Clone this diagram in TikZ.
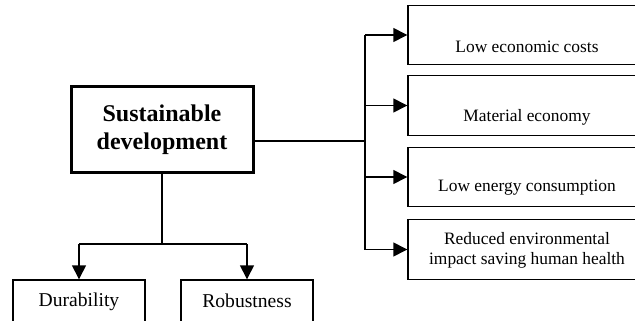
\documentclass[tikz,border=0pt]{standalone}
\usepackage{fontspec}
\setmainfont{Liberation Serif}
\usetikzlibrary{arrows.meta}
\begin{document}
\begin{tikzpicture}[x=1pt,y=-1pt,
  box/.style={draw=black,line width=1.4pt,inner sep=0pt,fill=white},
  mainbox/.style={draw=black,line width=3pt,inner sep=0pt,minimum width=182pt,minimum height=85pt,align=center,font=\fontsize{24}{28}\selectfont\bfseries},
  rbox/.style={box,minimum width=238pt,minimum height=59.5pt},
  bbox/.style={box,minimum width=132pt,minimum height=44pt},
  rtxt/.style={font=\fontsize{17.4}{20}\selectfont,align=center,inner sep=0pt},
  btxt/.style={font=\fontsize{19.6}{22}\selectfont,inner sep=0pt},
  conn/.style={line width=1.4pt},
  arr/.style={conn,-{Triangle[length=14pt,width=14pt]}}]
\useasboundingbox (0,0) rectangle (635,321);
\clip (0,0) rectangle (635,321);
\fill[white] (0,0) rectangle (635,321);
% main node
\node[mainbox] (main) at (162,129.5) {Sustainable\\development};
% right boxes
\node[rbox] (b1) at (527,35) {};
\node[rbox] (b2) at (527,105.5) {};
\node[rbox] (b3) at (527,177) {};
\node[rbox] (b4) at (527,249.5) {};
\node[rtxt] (t1) at (527,47) {Low economic costs};
\node[rtxt] (t2) at (527,117) {Material economy};
\node[rtxt] (t3) at (527,188) {Low energy consumption};
\node[rtxt] (t4) at (527,250) {Reduced environmental\\impact saving human health};
% bottom boxes
\node[bbox] (d) at (79,302) {};
\node[bbox] (r) at (247,302) {};
\node[btxt] (dt) at (79,302) {Durability};
\node[btxt] (rt) at (247,301) {Robustness};
% bus coordinates
\coordinate (hs) at (253,141);
\coordinate (bus) at (365,141);
\coordinate (bt) at (365,35);
\coordinate (bb) at (365,249.5);
\coordinate (vb) at (162,244);
\coordinate (vl) at (79,244);
\coordinate (vr) at (247,244);
% connectors
\draw[conn] (main.east |- hs) -- (bus);
\draw[conn] (bt) -- (bb);
\draw[arr] (bt) -- (b1.west);
\draw[arr] (bt |- b2.west) -- (b2.west);
\draw[arr] (bt |- b3.west) -- (b3.west);
\draw[arr] (bb) -- (b4.west);
\draw[conn] (main.south) -- (vb);
\draw[conn] (vl) -- (vr);
\draw[arr] (vl) -- (d.north);
\draw[arr] (vr) -- (r.north);
\end{tikzpicture}
\end{document}
